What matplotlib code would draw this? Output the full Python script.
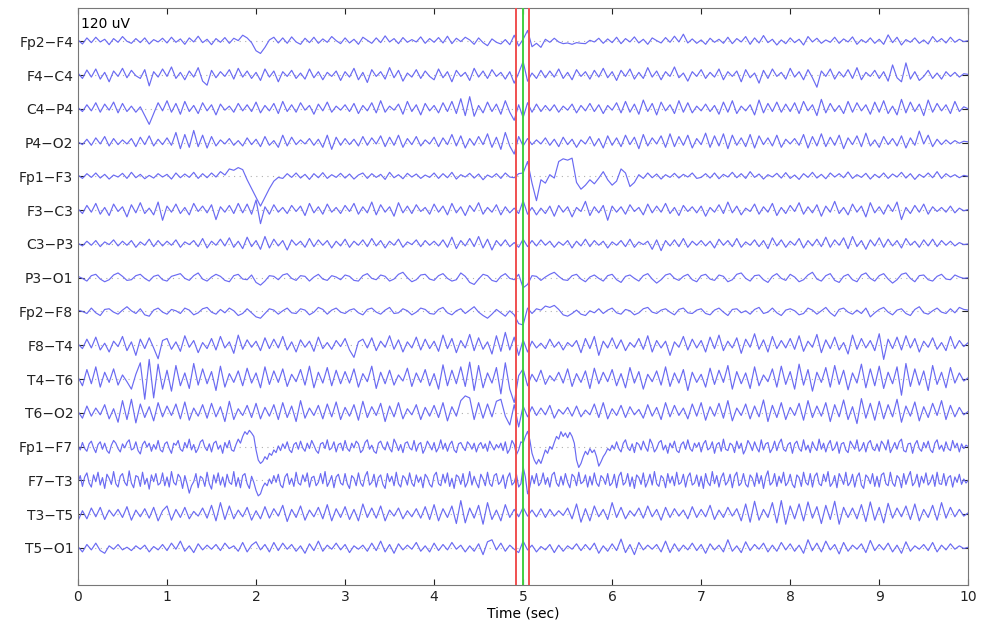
import matplotlib
matplotlib.use("Agg")
import matplotlib.pyplot as plt
import numpy as np

# EEG montage, 10 s page; values in uV
duration = 10
channel_spacing = 100  # display gain: uV between baselines
event_times = [4.92, 5.0, 5.07]
event_colors = ["#f05050", "#40d040", "#f05050"]

channel_names = [
    "Fp2−F4", "F4−C4", "C4−P4", "P4−O2", "Fp1−F3", "F3−C3", "C3−P3", "P3−O1",
    "Fp2−F8", "F8−T4", "T4−T6", "T6−O2", "Fp1−F7", "F7−T3", "T3−T5", "T5−O1",
]

# 20 samples per second
fp2_f4 = [
    4, -8, 10, -4, 12, -2, 6, -10, 8, -3, 14, 0, -6, 8, -4, 10, -8, 5, -2, 9,
    -5, 12, -3, 7, -9, 10, -2, 15, -4, 6, -10, 8, -3, 11, -6, 9, 2, 18, 10, -4,
    -28, -36, -18, 4, 12, -5, 10, -6, 13, -2, -9, 9, -4, 12, -6, 7, -3, 14, 2, -7,
    10, -5, 6, -9, 12, 3, -6, 10, -4, 16, -2, 8, -7, 11, -3, 5, -2, 13, -6, 8,
    -3, 11, -5, 15, -7, 9, -1, 12, 4, -9, 10, -4, -13, 7, -3, -8, 5, -10, 18, -14,
    6, 32, -16, -6, -18, 6, -3, 9, -2, -7, -5, -9, -4, -6, -7, 3, -2, 9, -6, 7,
    -4, 12, -7, 8, -2, 13, -5, 6, -9, 10, 2, -5, 11, -3, 15, -2, 21, -5, 7, -6,
    4, -9, 9, -3, 6, -6, 12, -7, 8, -2, 14, -9, 10, -5, 17, -4, 6, -11, 4, -7,
    10, -4, 6, -11, 14, -2, 9, -6, 4, -3, 12, -6, 7, -2, 13, -9, 5, -4, 10, -6,
    6, -9, 19, -4, 12, -11, 5, -3, 10, -6, 4, -8, 14, -2, 8, -5, 12, -3, 6, -1,
    2,
]
f4_c4 = [
    6, -10, 15, -6, 18, -12, 8, -20, 12, -4, 20, -8, 14, -2, -10, 16, -32, 10, -6, 18,
    -4, 24, -10, 8, -14, 12, -6, 22, -18, -30, 14, -8, 10, -4, 16, -12, 20, -6, 12, -10,
    8, -16, 18, -6, 12, -20, 10, -4, 14, -10, 6, -12, 18, -8, 10, -14, 8, -4, 12, -16,
    10, -6, 20, -14, 8, -22, 16, -4, 10, -12, 22, -8, 14, -18, 6, -6, 16, -10, 12, -4,
    -14, 18, -8, 10, -20, 14, -4, 8, -16, 20, -6, 12, -10, 16, -4, 8, -12, 10, -24, 6,
    40, -18, 6, -10, 14, -8, 12, -6, 18, -10, 8, -14, 16, -4, 10, -12, 14, -6, 20, -8,
    10, -16, 14, -4, 18, -12, 8, -10, 22, -6, 12, -14, 10, -4, 24, -8, 6, -18, 10, -4,
    16, -10, 8, -6, 18, -14, 10, -4, 12, -20, 16, -8, 6, -24, 14, -10, 18, -4, 8, -12,
    20, -6, 10, -14, 16, -8, -36, 12, -4, 18, -12, 10, -6, 16, -10, 22, -14, 8, -4, 14,
    -10, 10, -18, 30, -8, -20, 36, -12, 10, -16, -4, 14, -10, 6, -12, 10, -4, 8, -6, 4,
    2,
]
c4_p4 = [
    4, -8, 12, -6, 18, -10, 14, -4, 20, -12, 16, -8, 8, -10, 6, -20, -46, -14, 18, -6,
    24, -10, 16, -16, 22, -8, 10, -14, 18, -6, 12, -18, 14, -4, 8, -10, 16, -6, 12, -8,
    20, -12, 10, -6, 16, -14, 22, -8, 12, -10, 18, -4, 10, -16, 14, -6, 20, -10, 8, -4,
    12, -8, 16, -14, 10, -6, 18, -12, 24, -10, 8, -4, 14, -16, 22, -8, 12, -18, 16, -6,
    10, -12, 18, -8, 22, -14, 30, -20, 36, -22, 10, -12, 20, -8, 14, -16, 24, -10, -34, 12,
    -26, 18, -10, 14, -8, 10, -6, 12, -10, 8, -4, 14, -12, 10, -6, 16, -8, 12, -14, 10,
    -4, 18, -12, 22, -10, 14, -16, 26, -8, 16, -18, 20, -6, 12, -14, 24, -10, 18, -12, 8,
    -6, 14, -8, 10, -16, 20, -10, 24, -14, 8, -6, 12, -18, 26, -12, 16, -8, 20, -10, 14,
    -8, 18, -14, 22, -6, 12, -20, 28, -12, 16, -8, 10, -14, 22, -10, 18, -6, 12, -16, 20,
    -10, 24, -14, 8, -18, 28, -12, 20, -8, 14, -20, 26, -10, 16, -6, 12, -14, 22, -8, 6,
    0,
]
p4_o2 = [
    2, -6, 10, -8, 14, -4, 18, -10, 12, -6, 8, -4, 12, -12, 16, -6, 20, -10, 10, -6,
    14, -8, 30, -18, 24, -14, 36, -12, 22, -16, 18, -10, 8, -4, 12, -8, 6, -10, 14, -6,
    10, -12, 18, -8, 6, -14, 22, -10, 16, -6, 8, -4, 12, -8, 10, -14, 22, -20, 16, -8,
    12, -6, 10, -10, 18, -8, 14, -4, 20, -12, 16, -8, 22, -14, 12, -6, 18, -10, 8, -4,
    16, -12, 14, -6, 24, -10, 20, -16, 12, -8, 18, -6, 26, -14, 16, -20, 30, -10, -34, 18,
    -10, 12, -6, 8, -4, 14, -8, 10, -12, 16, -6, 10, -14, 8, -4, 18, -10, 12, -16, 20,
    -8, 14, -12, 22, -6, 16, -18, 24, -10, 14, -4, 20, -14, 26, -12, 18, -8, 22, -16, 12,
    -6, 28, -14, 20, -10, 26, -18, 22, -8, 14, -12, 24, -16, 20, -6, 14, -10, 22, -14, 10,
    -4, 12, -8, 24, -16, 18, -10, 26, -12, 16, -8, 22, -18, 14, -6, 20, -12, 28, -10, 8,
    -14, 18, -6, 12, -10, 20, -16, 14, -8, 34, -4, 22, -12, 10, -6, 8, -4, 6, -2, 4,
    2,
]
fp1_f3 = [
    4, -6, 8, -3, 10, -5, 6, -8, 4, -2, 9, -6, 12, -4, 6, -7, 3, -5, 8, -2,
    6, -8, 10, -4, 7, -3, 12, -6, 8, -4, 10, -2, 14, 4, 22, 18, 26, 20, -10, -36,
    -62, -88, -62, -36, -14, -3, -6, 8, -3, 10, -5, 6, -9, 8, -4, 11, -6, 5, -3, 9,
    -5, 7, -8, 4, 10, -6, 8, -3, 6, -9, 12, -4, 5, -7, 9, -2, 7, -6, 4, -3,
    10, -6, 8, -4, 12, -8, 5, -2, 9, -5, 7, -10, 4, -3, 8, -6, 10, -2, -4, 8,
    10, 44, -20, -72, -10, -20, 5, -5, 44, 52, 48, 54, -18, -38, -26, -10, -22, -5, 14, -10,
    -26, -14, 22, 10, -30, -18, 5, -6, 10, -4, 7, -8, 5, -3, 9, -5, 6, -2, 10, -6,
    -3, 8, -5, 10, -7, 6, -2, 12, -4, 8, -6, 14, -3, 7, -8, 5, -2, 9, -5, 11,
    -6, 4, -9, 8, -3, 12, -5, 6, -7, 10, -2, 8, -4, 13, -6, 5, -3, 9, -8, 6,
    -4, 10, -6, 7, -2, 12, -5, 8, -9, 6, -3, 10, -4, 14, -6, 8, -2, 5, -4, 3,
    0,
]
f3_c3 = [
    4, -10, 14, -6, 20, -12, 8, -16, 18, -4, 10, -20, 16, -8, 22, -10, 6, -14, 24, -30,
    12, -6, 18, -10, 8, -14, 20, -4, 12, -8, 16, -28, 10, -6, 14, -10, 20, -8, 18, -12,
    30, -40, 10, -12, 16, -6, 8, -10, 14, -4, 12, -16, 20, -8, 10, -12, 18, -6, 8, -10,
    14, -4, 20, -12, 10, -8, 24, -14, 16, -6, 10, -18, 22, -8, 12, -10, 16, -4, 8, -12,
    18, -6, 12, -14, 20, -8, 10, -16, 14, -4, 22, -12, 8, -6, 16, -14, 10, -8, 6, -10,
    28, -12, 8, -14, 6, -10, 12, -18, 14, -6, 10, -20, 8, -4, 26, -16, 10, -8, 14, -30,
    12, -6, 10, -12, 16, -4, 8, -14, 18, -8, 12, -6, 20, -10, 8, -16, 14, -4, 10, -8,
    12, -18, 8, -6, 16, -10, 24, -8, 12, -14, 6, -4, 18, -12, 10, -6, 20, -16, 8, -10,
    14, -4, 22, -12, 10, -8, 16, -18, 12, -6, 26, -10, 8, -14, 18, -6, 12, -20, 22, -8,
    10, -12, 16, -4, 24, -28, 8, -10, 14, -6, 18, -12, 10, -4, 8, -6, 12, -8, 6, -2,
    2,
]
c3_p3 = [
    2, -6, 8, -4, 10, -8, 6, -2, 12, -6, 8, -4, 10, -10, 6, -4, 14, -8, 10, -6,
    8, -4, 12, -10, 6, -2, 10, -8, 16, -12, 8, -4, 14, -6, 18, -10, 8, -14, 20, -8,
    10, -16, 22, -12, 14, -6, 10, -18, 12, -4, 8, -10, 16, -8, 12, -4, 10, -12, 8, -6,
    14, -10, 8, -4, 12, -8, 16, -6, 10, -12, 8, -4, 14, -10, 6, -2, 12, -8, 10, -4,
    8, -6, 12, -10, 20, -14, 10, -6, 16, -8, 22, -12, 14, -18, 10, -6, 12, -8, 4, -10,
    14, -8, 10, -6, 12, -4, 8, -10, 6, -4, 10, -12, 8, -6, 14, -8, 10, -4, 8, -12,
    6, -4, 10, -8, 14, -10, 6, -2, 8, -16, 12, -20, 10, -6, 12, -8, 16, -10, 8, -4,
    10, -6, 8, -12, 14, -4, 10, -8, 16, -10, 6, -4, 12, -8, 10, -14, 18, -6, 12, -10,
    8, -4, 16, -12, 10, -6, 14, -8, 20, -10, 12, -4, 18, -14, 22, -8, 10, -16, 12, -6,
    18, -10, 14, -6, 10, -12, 16, -4, 8, -10, 12, -6, 14, -8, 10, -4, 8, -6, 4, -2,
    0,
]
p3_o1 = [
    4, -2, -10, 6, 10, -4, -12, -6, 8, 14, 4, -8, -6, 6, 10, -2, -10, 4, 8, -6,
    -10, 4, 8, 12, -2, -8, 6, 14, -4, -10, 2, 10, 4, -8, -12, 6, 10, -4, -6, 8,
    -14, -22, -10, 6, 4, -6, 8, 12, -2, -8, 6, 4, -10, 2, 10, -4, -8, 6, 2, -6,
    8, 4, -8, -10, 6, 12, -2, -6, 8, 4, -10, -4, 10, 16, 0, -12, -6, 8, 10, -4,
    -8, 6, 12, -2, -10, -6, 14, 4, -14, -20, -4, 10, 6, -8, -12, 4, 12, -2, -6, 10,
    -30, -20, 6, 4, -8, 2, 10, 16, 4, -6, -8, 6, 10, -4, -12, 2, 8, -2, -10, 6,
    10, -6, -14, 4, 8, -2, -10, 6, 12, -4, -16, -6, 8, 12, -2, -8, 4, 10, -6, -12,
    6, 10, -4, -8, 8, 4, -12, -6, 10, 14, -2, -10, 6, 8, -6, -14, 4, 12, -2, -8,
    10, 2, -12, -6, 8, 16, -4, -10, 6, 12, -8, -14, 4, 10, -6, -12, 8, 14, -2, -10,
    6, 12, -4, -16, -6, 10, 14, -2, -12, 6, 8, -6, -10, 4, 10, -4, -6, 8, 2, -2,
    0,
]
fp2_f8 = [
    4, 0, -6, 10, -4, -12, 6, 8, -2, -8, 4, 14, 2, -6, 8, -10, -14, 4, 10, -2,
    -8, 6, 2, -6, 10, 4, -10, -4, 8, 12, -2, -8, 6, -4, 10, 2, -12, -6, 8, -4,
    -16, -20, -6, 8, 4, -8, 2, 10, -4, -6, 8, 4, -10, -2, 12, 6, -8, 4, 10, -2,
    -6, 4, 8, -4, -10, 6, 10, -2, -8, 4, 12, -6, -4, 8, 2, -10, -2, 10, 6, -6,
    -8, 6, 12, -4, -10, 2, 8, -6, 4, 14, -2, -12, -20, -8, 6, -4, -14, 2, -10, -36,
    -40, 10, -6, 8, 4, 16, 12, 18, 6, -10, -14, -6, 4, -8, -12, 2, -4, 8, -6, 4,
    10, -4, -8, 6, 2, -10, -4, 8, 12, -2, -6, 4, 8, -2, -10, 6, 10, -4, -6, 4,
    8, -6, -10, 4, 10, -2, -12, 6, 8, -4, 2, -8, 6, 12, -6, -2, 10, -4, -12, 4,
    8, 2, -10, -6, 10, 4, -8, 2, 12, -4, -14, 6, 10, -2, -8, 4, -6, 10, -16, -4,
    6, 12, -2, -10, 4, 8, -6, -12, 6, 14, -4, -8, 2, 10, -2, -6, 8, -4, 12, 6,
    4,
]
f8_t4 = [
    4, -10, 18, -8, 24, -14, 6, -20, 12, -4, 26, -16, 10, -30, 18, -10, 22, -8, -40, 14,
    20, -12, 10, -18, 28, -6, 14, -22, 8, -10, 20, -14, 26, -8, 10, -24, 30, -12, 16, -6,
    12, -16, 22, -10, 18, -8, 26, -14, 10, -20, 16, -6, 12, -18, 24, -10, 8, -12, 14, -4,
    20, -14, -36, 10, 18, -8, 22, -16, 12, -6, 28, -12, 16, -20, 10, -8, 24, -14, 18, -10,
    12, -18, 30, -10, 20, -22, 14, -8, 32, -16, 22, -12, 10, -26, 28, -18, 38, -14, 24, -30,
    16, -20, 12, -8, 6, -10, 18, -6, 10, -14, 8, -4, 14, -22, 20, -10, 26, -30, 12, -8,
    22, -10, 16, -16, 8, -6, 20, -12, 28, -20, 14, -8, 12, -30, 10, -6, 26, -14, 18, -8,
    14, -20, 24, -10, 30, -16, 12, -8, 22, -24, 18, -6, 34, -12, 16, -20, 26, -10, 14, -8,
    20, -12, 28, -18, 12, -6, 32, -22, 16, -10, 24, -14, 8, -26, 30, -12, 20, -8, 14, -16,
    34, -42, 18, -10, 24, -14, 28, -8, 20, -20, 12, -6, 22, -12, 8, -16, 26, -10, 14, -4,
    8,
]
t4_t6 = [
    6, -20, 28, -14, 36, -24, 20, -10, 30, -18, 12, -8, -30, 14, 48, -60, 58, -56, 44, -30,
    26, -36, 40, -20, 18, -28, 46, -18, 30, -14, 22, -34, 38, -24, 16, -10, 24, -20, 32, -12,
    18, -26, 36, -16, 24, -10, 30, -22, 14, -8, 28, -18, 38, -26, 20, -12, 34, -20, 26, -14,
    22, -12, 30, -24, 16, -8, 38, -28, 20, -14, 26, -18, 12, -6, 32, -22, 18, -10, 28, -20,
    16, -30, 42, -20, 26, -14, 36, -22, 50, -34, 40, -26, 18, -12, 34, -44, 48, -30, -70, 10,
    30, -20, 14, -8, 26, -16, 10, -6, 20, -12, 30, -22, 16, -10, 24, -28, 32, -14, 20, -8,
    28, -20, 16, -26, 34, -12, 22, -30, 14, -8, 24, -18, 36, -22, 18, -12, 28, -34, 20, -10,
    14, -24, 32, -16, 26, -10, 40, -30, 22, -14, 18, -28, 36, -20, 12, -8, 30, -24, 38, -16,
    22, -30, 44, -18, 28, -36, 20, -10, 34, -24, 40, -16, 26, -32, 18, -12, 44, -26, 30, -20,
    38, -28, 20, -14, 36, -48, 46, -22, 30, -18, 24, -34, 40, -16, 20, -26, 34, -12, 18, -6,
    4,
]
t6_o2 = [
    4, -16, 20, -10, 14, -6, 24, -18, 12, -28, 36, -20, 40, -30, 26, -14, 18, -24, 30, -12,
    20, -8, 26, -18, 32, -22, 14, -10, 24, -16, 28, -12, 18, -26, 34, -20, 12, -8, 22, -14,
    28, -18, 16, -10, 24, -20, 30, -14, 20, -26, 36, -16, 14, -8, 22, -18, 26, -12, 32, -20,
    16, -10, 24, -22, 34, -14, 18, -8, 28, -26, 20, -12, 30, -18, 12, -6, 24, -20, 16, -10,
    22, -14, 30, -24, 18, -10, 36, 50, 44, -20, 30, -16, 26, -12, 34, 40, -10, -36, 24, -42,
    20, -12, 18, -8, 14, -6, 22, -16, 10, -4, 16, -10, 20, -12, 8, -6, 26, -14, 30, -18,
    12, -8, 22, -14, 18, -6, 10, -16, 24, -10, 16, -20, 30, -12, 22, -8, 14, -18, 26, -10,
    30, -22, 18, -10, 28, -16, 36, -24, 14, -8, 26, -18, 20, -12, 38, -26, 22, -14, 30, -20,
    16, -8, 28, -22, 36, -14, 20, -10, 30, -26, 24, -12, 38, -20, 18, -32, 42, -16, 28, -22,
    34, -18, 24, -12, 40, -28, 20, -10, 32, -24, 18, -14, 28, -8, 36, -20, 22, -12, 16, -6,
    4,
]
# 40 samples per second (fast activity)
fp1_f7 = [
    4, -10, 12, -6, -14, 8, 16, -4, -18, 6, 14, -8, 10, -12, -20, 4, 18, 10, -6, -16,
    8, -4, 12, 20, -10, -6, 14, -12, -22, 6, 16, -2, 10, -14, 6, -8, 18, -10, -16, 8,
    14, -6, -20, 10, 4, 18, -8, -14, 12, -4, 22, -10, 6, -18, -6, 14, 20, -2, -12, 8,
    -16, 10, 16, -8, 4, -20, 12, -4, 18, -10, -14, 6, 22, 10, 30, 44, 36, 48, 40, 30,
    -10, -40, -50, -44, -30, -38, -20, -26, -10, -18, 2, -12, 8, -6, 14, -10, -18, 6, 12, -8,
    16, -4, -14, 10, -6, 18, 4, -12, -20, 8, 12, -6, 20, -10, -4, 14, -16, 6, 10, -12,
    18, -6, -14, 10, -4, 16, 8, -18, -10, 12, 20, -8, 4, -14, -20, 10, 16, -2, -10, 14,
    -6, -16, 22, 8, -12, 6, -18, 10, 14, -4, -10, 18, -14, 6, 12, -20, -6, 16, 4, -10,
    12, -16, -4, 20, -8, 10, -14, 6, 16, -10, -18, 8, 12, -2, -12, 14, 6, -8, 10, -16,
    4, 12, -6, 8, -14, 16, 2, -10, 6, -4, 10, -12, 14, -20, -8, 18, 6, -24, -10, 14,
    10, 30, 45, 20, -20, -40, -52, -38, -50, -30, -10, -20, 0, -8, 12, 30, 22, 44, 30, 40,
    26, 42, 30, 10, -40, -62, -50, -30, -14, -24, -6, -18, -10, -30, -58, -45, -30, -20, -6, -12,
    4, -8, 14, -6, -16, 10, 20, -4, -12, 8, -18, 12, 6, -10, 16, -2, -14, 22, 8, -16,
    -6, 12, 18, -10, 4, -20, 10, -4, 16, -12, -18, 6, 14, -8, 20, -6, -14, 10, -2, 12,
    -16, 8, 18, -10, -4, 14, -20, 6, 12, -14, 22, -8, -12, 10, 4, -18, 16, -6, 10, -22,
    -8, 18, 6, -12, 14, -4, -16, 20, -10, 8, 12, -18, -6, 16, -12, 10, 22, -8, -14, 6,
    12, -20, 8, 16, -6, -14, 20, -10, 4, -18, 14, -2, -12, 22, -8, 10, -16, 6, 18, -12,
    -4, 14, -20, 8, 12, -10, -18, 16, 4, -8, 20, -14, -6, 12, -16, 10, 18, -6, -12, 8,
    -14, 16, 6, -10, 20, -18, -4, 12, -8, 14, 22, -12, -16, 8, 10, -20, 6, 18, -6, -14,
    12, -4, 16, -10, -18, 10, 20, -8, 4, -14, 14, -6, -12, 18, -4, 10, -16, 8, -6, 4,
    0,
]
f7_t3 = [
    -6, 14, -18, 10, 22, -8, -20, 16, -4, 24, -14, 8, -24, 18, 6, -12, 26, -10, -20, 12,
    20, -6, -16, 28, -8, -22, 14, 10, -18, 24, -12, 6, -26, 16, -4, 20, -14, -8, 22, -16,
    10, -20, 26, -6, -14, 18, 8, -24, 14, -10, -38, -16, -4, 20, -22, 12, 6, -18, 24, -10,
    -26, 16, -8, 22, -14, 10, -20, 18, -6, -12, 26, -18, 8, -22, 14, 20, -10, -24, 12, -6,
    -30, -46, -40, -20, -8, -16, 4, -10, 14, -6, 18, -14, -22, 10, 20, -12, 6, -18, 24, -8,
    -14, 16, -4, 22, -20, 8, 12, -16, -6, 20, -10, 26, -18, -4, 14, -22, 10, 18, -8, -14,
    20, -10, -24, 14, 6, -16, 22, -8, -18, 12, 26, -14, -6, 18, -20, 8, 16, -12, -24, 20,
    -4, 12, -16, 24, -10, -20, 14, 6, -14, 22, -8, -18, 16, -6, 10, -22, 18, 8, -12, -20,
    14, 24, -10, -16, 18, -8, 22, -18, 6, -24, 16, 10, -12, 20, -20, -6, 26, -14, 12, -8,
    -22, 18, 4, -16, 24, -10, -18, 14, 20, -12, -4, 16, -24, 8, 22, -14, -6, 18, -20, -10,
    40, 10, -40, -20, 14, -10, 20, -16, -6, 22, -12, 8, -20, 16, 24, -8, -18, 12, -14, 20,
    -6, -22, 18, 10, -16, 24, -10, -4, 16, -20, 12, -14, 22, -8, -18, 14, 6, -12, 20, -16,
    -8, 18, -22, 12, 24, -14, -6, 20, -18, 10, -24, 16, 8, -12, 22, -20, -4, 18, -14, 26,
    -10, -18, 14, 6, -22, 20, -8, 12, -16, 24, -12, -6, 18, -20, 10, 22, -14, -8, 16, -18,
    12, -24, 20, -6, -16, 26, -10, 14, -20, 8, 22, -14, -4, 18, -22, 12, 24, -16, -8, 20,
    -12, -20, 16, 6, -18, 22, -10, 14, -24, 10, 28, -14, -6, 20, -18, 12, -8, 24, -16, -6,
    18, -12, -22, 16, 8, -18, 24, -6, -14, 20, -20, 12, 22, -10, -16, 18, -4, 26, -18, -8,
    14, -22, 20, 6, -12, 24, -16, -6, 18, -20, 10, 22, -14, -24, 16, 8, -10, 20, -18, 12,
    -20, 16, 22, -10, -16, 24, -8, -18, 14, 6, -22, 20, -12, 10, 26, -16, -6, 18, -20, 12,
    -8, 22, -14, -4, 16, -18, 24, -10, -12, 20, -16, 8, 14, -20, 10, -6, 18, -12, 4, -8,
    0,
]
# 20 samples per second
t3_t5 = [
    -20, 10, -14, 18, -8, 20, -16, 12, -6, 14, -10, 22, -18, 12, -8, 16, -12, 20, -20, 10,
    24, -18, 14, -10, 20, -14, 8, -6, 18, -12, 26, -20, 34, -16, 24, -14, 12, -8, 20, -18,
    10, -14, 22, -12, 16, -6, 26, -22, 14, -10, 24, -18, 12, -8, 20, -14, 28, -20, 16, -10,
    22, -16, 14, -20, 30, -10, 18, -12, 24, -20, 12, -6, 18, -14, 10, -8, 16, -12, 22, -16,
    28, -20, 16, -10, 24, -28, 40, -26, 18, -12, 26, -30, 34, -16, 12, -20, 28, -10, 14, -8,
    20, -6, 12, -8, 16, -10, 14, -6, 10, -4, 18, -14, 30, -24, 16, -20, 24, -8, 14, -16,
    34, -10, 20, -14, 10, -6, 18, -12, 24, -8, 14, -18, 20, -10, 16, -6, 12, -14, 22, -10,
    14, -8, 26, -16, 12, -10, 20, -6, 16, -20, 30, -24, 38, -18, 14, -10, 34, -26, 40, -30,
    24, -14, 30, -20, 36, -12, 22, -28, 26, -16, 38, -30, 20, -10, 18, -14, 28, -22, 36, -18,
    20, -26, 32, -12, 18, -8, 24, -16, 30, -20, 14, -10, 26, -18, 34, -12, 20, -8, 14, -6,
    4,
]
t5_o1 = [
    4, -12, 10, -6, 14, -8, -16, 6, -4, 10, -6, 2, -8, 6, -4, 8, -12, 4, -6, 10,
    -8, 14, -4, 20, -10, 6, -14, 12, -6, 8, -4, 10, -8, 14, -2, 6, -10, 16, -12, 8,
    18, -6, 10, -12, 16, -8, 14, -4, 10, -10, 6, -16, 12, -8, 20, -10, 8, -4, 14, -6,
    10, -14, 6, -4, 8, -10, 14, -8, 20, -12, 10, -16, 12, -6, 8, -4, 16, -10, 6, -12,
    14, -8, 10, -6, 16, -4, 8, -12, 6, -10, 12, -20, 18, 24, -6, 14, -10, 8, -4, -14,
    20, -6, 8, -12, 4, -6, 10, -14, 8, -10, 6, -4, 12, -8, 10, -6, 14, -16, 6, -10,
    12, -8, 26, -14, 10, -20, 16, -6, 8, -4, 10, -12, 20, -14, 12, -10, 8, -6, 14, -8,
    10, -16, 12, -6, 8, -12, 24, -10, 6, -14, 18, -8, 10, -4, 14, -12, 8, -10, 16, -6,
    12, -10, 8, -16, 24, -8, 14, -12, 20, -6, 10, -18, 16, -10, 8, -4, 12, -14, 22, -8,
    10, -6, 14, -12, 8, -16, 18, -10, 6, -4, 10, -8, 16, -12, 8, -6, 12, -4, 6, -2,
    2,
]

channels = [
    fp2_f4, f4_c4, c4_p4, p4_o2, fp1_f3, f3_c3, c3_p3, p3_o1,
    fp2_f8, f8_t4, t4_t6, t6_o2, fp1_f7, f7_t3, t3_t5, t5_o1,
]

fig = plt.figure(figsize=(9.81, 6.30), dpi=100)
ax = fig.add_axes([0.0795, 0.0714, 0.9075, 0.9156])

n_ch = len(channels)
baselines = [(n_ch - i) * channel_spacing for i in range(n_ch)]

for base, values in zip(baselines, channels):
    values = np.asarray(values, dtype=float)
    t = np.arange(len(values)) * duration / (len(values) - 1)
    ax.plot([0, duration], [base, base], color="#b0b0b0", linestyle=(0, (1, 4)), linewidth=0.8, zorder=1)
    ax.plot(t, base + values, color="#6a6af2", linewidth=0.85, zorder=2)

for et, ec in zip(event_times, event_colors):
    ax.axvline(et, color=ec, linewidth=1.4, zorder=3)

ax.set_xlim(0, duration)
ax.set_ylim(-0.1 * channel_spacing, 16.98 * channel_spacing)
ax.set_xticks(range(0, duration + 1))
ax.set_yticks(baselines)
ax.set_yticklabels(channel_names)
ax.tick_params(direction="in", top=True, right=True, length=4, labelsize=10, colors="#222222")
for sp in ax.spines.values():
    sp.set_color("#777777")
ax.set_xlabel("Time (sec)", fontsize=10, labelpad=2)
ax.text(0.003, 0.985, "120 uV", transform=ax.transAxes, fontsize=10, va="top", ha="left")

fig.savefig("out.png", dpi=100)
